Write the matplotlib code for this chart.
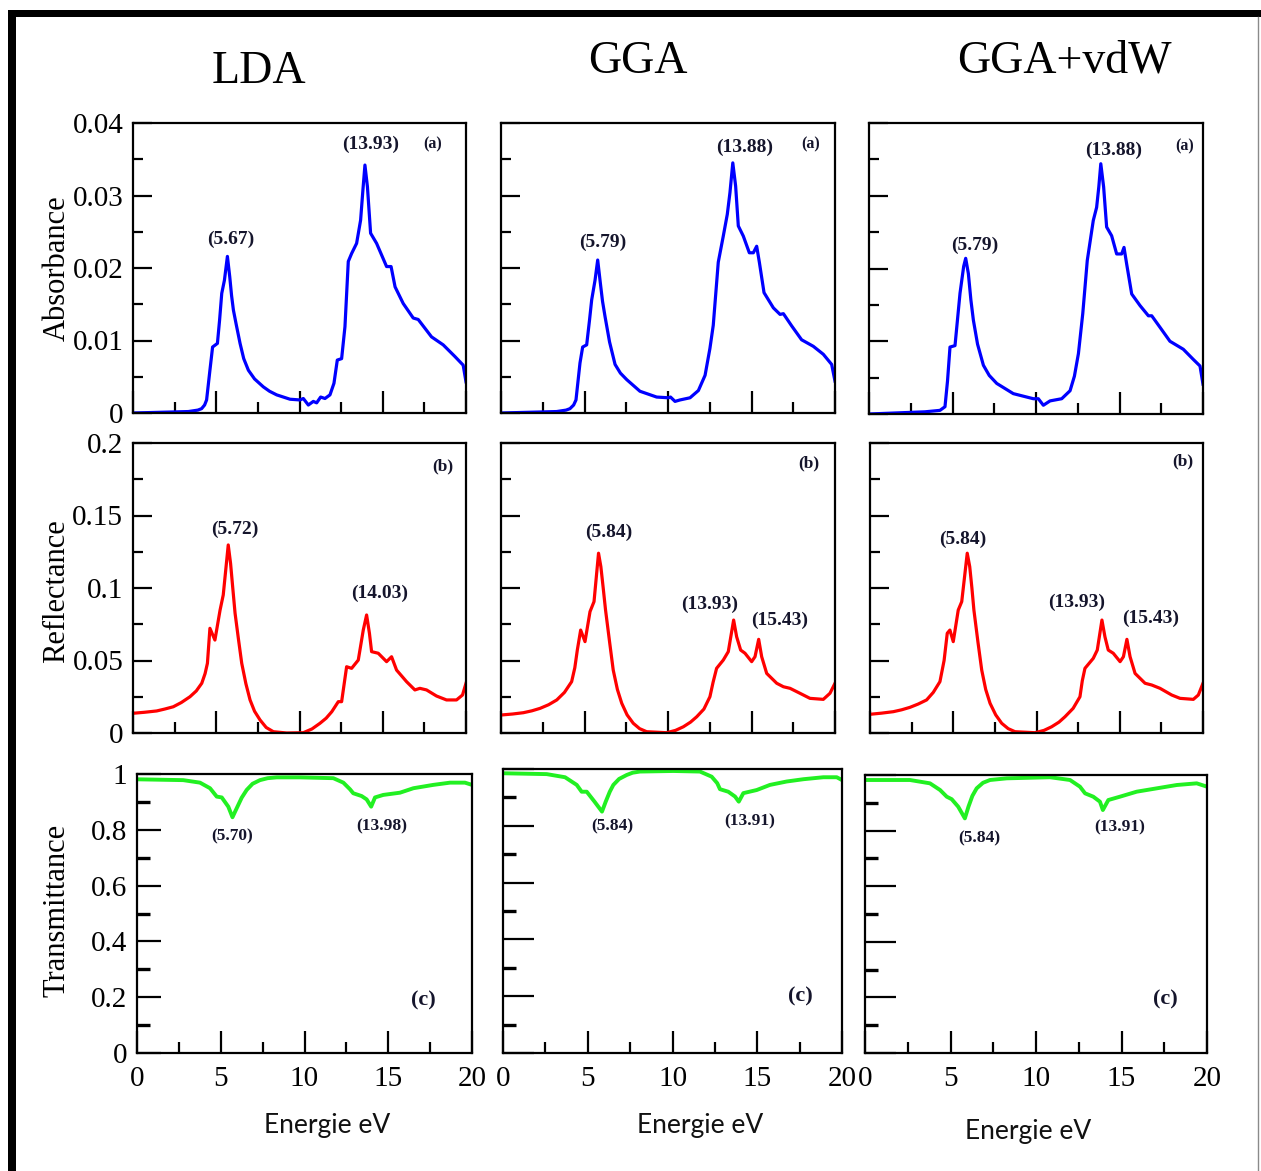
import numpy as np
import matplotlib.pyplot as plt
from matplotlib.lines import Line2D
from matplotlib.patches import Rectangle
from matplotlib.ticker import MultipleLocator

### Spectra (energy in eV, value) for the three functionals.
lda_abs = np.array([(0, 0), (3.32, 0.0002), (3.9, 0.0004), (4.12, 0.0006), (4.3, 0.0011), (4.42, 0.0018),
    (4.62, 0.0059), (4.78, 0.0091), (5.07, 0.0096), (5.2, 0.0128), (5.33, 0.0165), (5.49, 0.0183),
    (5.67, 0.0216), (5.81, 0.0188), (5.92, 0.0162), (6.03, 0.0142), (6.2, 0.0122), (6.43, 0.0096),
    (6.65, 0.0075), (6.93, 0.0059), (7.3, 0.0047), (7.83, 0.0036), (8.2, 0.003), (8.63, 0.0025),
    (9.43, 0.0019), (10.03, 0.0018), (10.23, 0.002), (10.53, 0.0011), (10.83, 0.0016), (11.03, 0.0014),
    (11.27, 0.0022), (11.53, 0.002), (11.83, 0.0025), (12.07, 0.0041), (12.27, 0.0073), (12.53, 0.0075),
    (12.73, 0.0119), (12.93, 0.0209), (13.13, 0.022), (13.43, 0.0234), (13.67, 0.0266), (13.81, 0.0308),
    (13.93, 0.0342), (14.08, 0.0312), (14.27, 0.0248), (14.63, 0.0234), (15.23, 0.0202), (15.5, 0.0202),
    (15.74, 0.0174), (16.23, 0.0151), (16.83, 0.0131), (17.13, 0.0129), (17.93, 0.0105), (18.63, 0.0094),
    (19.33, 0.0078), (19.83, 0.0066), (20.0, 0.0043)])
gga_abs = np.array([(0, 0), (3.33, 0.0002), (3.9, 0.0004), (4.13, 0.0006), (4.35, 0.0011), (4.49, 0.0018),
    (4.73, 0.0069), (4.89, 0.0091), (5.13, 0.0094), (5.3, 0.0128), (5.43, 0.0156), (5.63, 0.0183),
    (5.79, 0.0211), (5.95, 0.0179), (6.08, 0.0154), (6.23, 0.0133), (6.5, 0.0098), (6.83, 0.0067),
    (7.15, 0.0055), (7.53, 0.0046), (8.32, 0.003), (9.32, 0.0022), (10.02, 0.0021), (10.15, 0.0022),
    (10.42, 0.0016), (10.72, 0.0018), (11.32, 0.0021), (11.82, 0.0031), (12.22, 0.0052), (12.51, 0.0089),
    (12.71, 0.0121), (13.01, 0.0208), (13.31, 0.0244), (13.55, 0.0274), (13.71, 0.0304), (13.88, 0.0345),
    (14.05, 0.0313), (14.21, 0.0258), (14.51, 0.0244), (14.87, 0.0221), (15.11, 0.0221), (15.31, 0.023),
    (15.47, 0.0208), (15.75, 0.0166), (16.31, 0.0145), (16.71, 0.0136), (16.91, 0.0137), (17.41, 0.012),
    (18.0, 0.0101), (18.7, 0.0092), (19.3, 0.0081), (19.8, 0.0067), (20.0, 0.0044)])
vdw_abs = np.array([(0, 0), (3.35, 0.0003), (4.25, 0.0005), (4.55, 0.001), (4.7, 0.0045), (4.85, 0.0092),
    (5.15, 0.0094), (5.45, 0.0166), (5.67, 0.0203), (5.79, 0.0214), (5.95, 0.0193), (6.1, 0.0157),
    (6.25, 0.0129), (6.5, 0.0096), (6.85, 0.0067), (7.2, 0.0053), (7.65, 0.0042), (8.64, 0.0028),
    (9.84, 0.0021), (10.14, 0.0021), (10.44, 0.0012), (10.84, 0.0018), (11.54, 0.0021), (12.04, 0.0032),
    (12.3, 0.0052), (12.54, 0.0083), (12.8, 0.0138), (13.07, 0.0211), (13.43, 0.0266), (13.63, 0.0284),
    (13.76, 0.0312), (13.88, 0.0344), (14.05, 0.0312), (14.23, 0.0257), (14.53, 0.0245), (14.83, 0.022),
    (15.13, 0.022), (15.27, 0.0229), (15.43, 0.0206), (15.73, 0.0165), (16.23, 0.0149), (16.73, 0.0135),
    (16.93, 0.0135), (17.43, 0.0119), (18.02, 0.01), (18.82, 0.0089), (19.42, 0.0075), (19.82, 0.0066),
    (20.0, 0.0041)])

lda_ref = np.array([(0, 0.0136), (0.7, 0.0143), (1.42, 0.0152), (1.9, 0.0165), (2.42, 0.0181), (2.9, 0.021),
    (3.42, 0.025), (3.8, 0.029), (4.13, 0.0343), (4.33, 0.041), (4.47, 0.0481), (4.62, 0.0722),
    (4.92, 0.0641), (5.23, 0.0848), (5.42, 0.0952), (5.72, 0.1297), (5.86, 0.117), (6.0, 0.099),
    (6.13, 0.0826), (6.33, 0.065), (6.53, 0.0481), (6.78, 0.034), (7.03, 0.0228), (7.3, 0.015),
    (7.63, 0.009), (8.0, 0.0038), (8.43, 0.0009), (9.23, 0.0), (10.23, 0.0002), (10.75, 0.0028),
    (11.23, 0.0067), (11.6, 0.0102), (11.94, 0.0147), (12.33, 0.0216), (12.53, 0.0216), (12.83, 0.0457),
    (13.13, 0.0446), (13.53, 0.0503), (13.83, 0.071), (14.03, 0.0814), (14.2, 0.0688), (14.33, 0.0561),
    (14.73, 0.055), (15.23, 0.0492), (15.53, 0.0526), (15.83, 0.0434), (16.43, 0.0354), (16.93, 0.0297),
    (17.23, 0.0308), (17.63, 0.0297), (18.23, 0.0255), (18.83, 0.0228), (19.43, 0.0228), (19.79, 0.0262),
    (20.0, 0.0343)])
gga_ref = np.array([(0, 0.0124), (0.7, 0.0131), (1.34, 0.014), (1.85, 0.0153), (2.34, 0.017), (2.85, 0.0195),
    (3.34, 0.0228), (3.8, 0.028), (4.23, 0.0354), (4.42, 0.045), (4.57, 0.0572), (4.77, 0.071),
    (5.03, 0.063), (5.33, 0.0837), (5.57, 0.0906), (5.84, 0.124), (5.98, 0.1147), (6.12, 0.1),
    (6.26, 0.0848), (6.5, 0.063), (6.72, 0.0434), (6.97, 0.03), (7.23, 0.0205), (7.55, 0.0125),
    (7.92, 0.0067), (8.3, 0.003), (8.72, 0.0009), (9.92, 0.0002), (10.45, 0.0018), (10.92, 0.0043),
    (11.35, 0.0075), (11.72, 0.0112), (12.15, 0.0165), (12.51, 0.025), (12.7, 0.035), (12.91, 0.0446),
    (13.31, 0.0503), (13.61, 0.0561), (13.93, 0.0779), (14.11, 0.0664), (14.35, 0.0572), (14.61, 0.055),
    (15.01, 0.0492), (15.21, 0.0526), (15.43, 0.0646), (15.61, 0.0526), (15.91, 0.0411), (16.51, 0.0343),
    (16.91, 0.0319), (17.31, 0.0308), (17.9, 0.0274), (18.5, 0.0239), (19.3, 0.0232), (19.7, 0.0274),
    (20.0, 0.0343)])
vdw_ref = np.array([(0, 0.0129), (0.7, 0.0137), (1.4, 0.0147), (1.9, 0.016), (2.4, 0.0177), (2.9, 0.02),
    (3.4, 0.0228), (3.8, 0.028), (4.2, 0.0354), (4.45, 0.05), (4.64, 0.0688), (4.8, 0.071), (5.0, 0.063),
    (5.3, 0.0848), (5.51, 0.0906), (5.84, 0.124), (5.99, 0.1147), (6.12, 0.1), (6.24, 0.0848),
    (6.48, 0.063), (6.71, 0.0434), (6.95, 0.03), (7.21, 0.0205), (7.55, 0.0125), (7.91, 0.0067),
    (8.3, 0.003), (8.71, 0.0009), (9.91, 0.0002), (10.45, 0.0018), (10.91, 0.0043), (11.35, 0.0075),
    (11.71, 0.0112), (12.2, 0.017), (12.61, 0.025), (12.75, 0.036), (12.91, 0.0446), (13.41, 0.0515),
    (13.65, 0.0572), (13.93, 0.0779), (14.11, 0.0664), (14.31, 0.0572), (14.61, 0.055), (15.02, 0.0492),
    (15.22, 0.0526), (15.43, 0.0646), (15.62, 0.0526), (15.92, 0.0411), (16.52, 0.0343), (16.92, 0.0331),
    (17.42, 0.0308), (18.12, 0.0262), (18.62, 0.0239), (19.42, 0.0232), (19.72, 0.0262), (20.0, 0.0343)])

lda_tr = np.array([(0, 0.981), (2.76, 0.978), (3.76, 0.969), (4.36, 0.949), (4.76, 0.919), (5.06, 0.916),
    (5.45, 0.883), (5.70, 0.845), (5.95, 0.877), (6.25, 0.915), (6.55, 0.943), (6.9, 0.965), (7.34, 0.978),
    (7.8, 0.985), (8.34, 0.988), (9.73, 0.988), (11.72, 0.985), (12.32, 0.969), (12.72, 0.945),
    (12.91, 0.931), (13.41, 0.921), (13.71, 0.909), (13.98, 0.883), (14.21, 0.916), (14.7, 0.925),
    (15.7, 0.933), (16.5, 0.949), (17.69, 0.961), (18.69, 0.969), (19.58, 0.969), (20.0, 0.961)])
gga_tr = np.array([(0, 0.985), (2.58, 0.982), (3.66, 0.971), (4.35, 0.944), (4.64, 0.92), (4.94, 0.92),
    (5.4, 0.885), (5.84, 0.85), (6.06, 0.885), (6.3, 0.92), (6.51, 0.944), (6.85, 0.965), (7.3, 0.979),
    (7.65, 0.987), (8.08, 0.991), (10.05, 0.993), (11.62, 0.991), (12.31, 0.973), (12.64, 0.95),
    (12.8, 0.929), (13.29, 0.92), (13.69, 0.903), (13.91, 0.885), (14.18, 0.915), (14.97, 0.926),
    (15.75, 0.944), (16.74, 0.956), (17.72, 0.964), (18.9, 0.971), (19.69, 0.971), (20.0, 0.961)])
vdw_tr = np.array([(0, 0.982), (2.63, 0.982), (3.8, 0.97), (4.39, 0.946), (4.78, 0.922), (5.07, 0.913),
    (5.45, 0.886), (5.84, 0.844), (6.05, 0.886), (6.28, 0.925), (6.53, 0.952), (6.9, 0.972), (7.31, 0.982),
    (8.29, 0.988), (10.82, 0.992), (11.99, 0.982), (12.57, 0.958), (12.87, 0.934), (13.35, 0.922),
    (13.74, 0.904), (13.91, 0.874), (14.23, 0.91), (14.91, 0.922), (15.89, 0.94), (17.06, 0.952),
    (18.23, 0.964), (19.4, 0.97), (20.0, 0.958)])

# Peak energies written on each panel.
lda_abs_pk = [5.67, 13.93]
gga_abs_pk = [5.79, 13.88]
vdw_abs_pk = [5.79, 13.88]
lda_ref_pk = [5.72, 14.03]
gga_ref_pk = [5.84, 13.93, 15.43]
vdw_ref_pk = [5.84, 13.93, 15.43]
lda_tr_pk = [5.70, 13.98]
gga_tr_pk = [5.84, 13.91]
vdw_tr_pk = [5.84, 13.91]

methods = ['LDA', 'GGA', 'GGA+vdW']
quantities = ['Absorbance', 'Reflectance', 'Transmittance']
ytick_text = [['0', '0.01', '0.02', '0.03', '0.04'],
              ['0', '0.05', '0.1', '0.15', '0.2'],
              ['0', '0.2', '0.4', '0.6', '0.8', '1']]
xtick_text = ['0', '5', '10', '15', '20']

### Figure set-up (pixel layout).
W, H = 1261, 1171
fig = plt.figure(figsize=(W / 100, H / 100), dpi=100)
fig.patch.set_facecolor('white')
serif = 'Liberation Serif'
ink = '#15152c'

def add_ax(l, t, r, b):
    return fig.add_axes([l / W, 1 - b / H, (r - l) / W, (b - t) / H])

boxes = [[(133, 123, 466, 413), (501, 123, 835, 413), (869, 123, 1203, 414)],
         [(133, 443, 466, 733), (501, 443, 835, 733), (870, 443, 1203, 733)],
         [(137, 774, 472, 1053), (503, 769, 842, 1053), (865, 775, 1207, 1053)]]
curves = [[lda_abs, gga_abs, vdw_abs], [lda_ref, gga_ref, vdw_ref], [lda_tr, gga_tr, vdw_tr]]
peaks = [[lda_abs_pk, gga_abs_pk, vdw_abs_pk], [lda_ref_pk, gga_ref_pk, vdw_ref_pk],
         [lda_tr_pk, gga_tr_pk, vdw_tr_pk]]
colors = ['#0000ff', '#ff0000', '#22f022']
ylims = [0.04, 0.2, 1.0]
ymaj = [0.01, 0.05, 0.2]
ymin = [0.005, 0.025, 0.1]
# where the peak labels sit, in data units
label_xy = [[[(5.89, 0.0239), (14.29, 0.0371)], [(6.11, 0.0236), (14.61, 0.0366)], [(6.35, 0.0232), (14.67, 0.0363)]],
            [[(6.13, 0.1407), (14.83, 0.0966)], [(6.47, 0.1386), (12.51, 0.089), (16.71, 0.0779)],
             [(5.59, 0.1338), (12.43, 0.0903), (16.88, 0.0793)]],
            [[(5.67, 0.778), (14.63, 0.814)], [(6.43, 0.799), (14.57, 0.817)], [(6.67, 0.773), (14.91, 0.813)]]]
tags = ['(a)', '(b)', '(c)']
tag_xy = [[(18.0, 0.037), (18.56, 0.037), (18.92, 0.0368)],
          [(18.62, 0.184), (18.44, 0.186), (18.8, 0.1876)],
          [(17.07, 0.19), (17.52, 0.2), (17.54, 0.194)]]

for i in range(3):
    for j in range(3):
        ax = add_ax(*boxes[i][j])
        d = curves[i][j]
        ax.plot(d[:, 0], d[:, 1], color=colors[i], lw=2.3 if i < 2 else 2.8,
                solid_joinstyle='round')
        ax.set_xlim(0, 20)
        ax.set_ylim(0, ylims[i])
        for s in ax.spines.values():
            s.set_linewidth(1.6)
        ax.set_xticks([0, 5, 10, 15, 20])
        ax.xaxis.set_minor_locator(MultipleLocator(2.5))
        ax.set_yticks(np.arange(0, ylims[i] + 1e-9, ymaj[i]))
        ax.yaxis.set_minor_locator(MultipleLocator(ymin[i]))
        ax.tick_params(which='both', direction='in', top=False, right=False, width=1.6, colors='k')
        ax.tick_params(axis='x', which='major', length=16)
        ax.tick_params(axis='x', which='minor', length=8)
        if i < 2:
            ax.tick_params(axis='y', which='major', length=14)
            ax.tick_params(axis='y', which='minor', length=7)
        else:
            ax.tick_params(axis='y', which='major', length=17 if j == 0 else 22)
            ax.tick_params(axis='y', which='minor', length=9, width=2.4)
        if j == 0:
            ax.set_yticklabels(ytick_text[i], fontsize=21, family=serif)
            ax.tick_params(axis='y', pad=7)
        else:
            ax.set_yticklabels([])
        if i == 2:
            ax.set_xticklabels(xtick_text, fontsize=21, family=serif)
            ax.tick_params(axis='x', pad=9)
        else:
            ax.set_xticklabels([])
        # peak positions
        size = 12.5 if i == 2 else 14
        for p, (tx, ty) in zip(peaks[i][j], label_xy[i][j]):
            ax.text(tx, ty, f'({p:.2f})', ha='center', va='center', fontsize=size,
                    family=serif, weight='bold', color=ink)
        tx, ty = tag_xy[i][j]
        ax.text(tx, ty, tags[i], ha='center', va='center', fontsize=[11.5, 12.5, 16][i],
                family=serif, weight='bold', color=ink)

# Column titles and axis names.
for name, (x, y) in zip(methods, [(259, 72), (638, 62), (1064, 61)]):
    fig.text(x / W, 1 - y / H, name, ha='center', va='center', fontsize=33, family=serif)
for name, y in zip(quantities, [268, 591, 910]):
    fig.text(57 / W, 1 - y / H, name, ha='center', va='center', rotation=90, fontsize=22, family=serif)
for x, y in [(327, 1126), (700, 1126), (1028, 1131)]:
    fig.text(x / W, 1 - y / H, 'Energie eV', ha='center', va='center', fontsize=19,
             family='Lato', color='#111111')

# Frame round the figure.
fig.add_artist(Rectangle((8 / W, 1 - 17 / H), 1253 / W, 7 / H, transform=fig.transFigure,
                         facecolor='black', edgecolor='none'))
fig.add_artist(Rectangle((8 / W, 0), 8 / W, 1161 / H, transform=fig.transFigure,
                         facecolor='black', edgecolor='none'))
fig.add_artist(Line2D([1258 / W, 1258 / W], [0, 1 - 17 / H], transform=fig.transFigure,
                      color='#8a8a8a', lw=1))

fig.savefig('out.png', dpi=100)
